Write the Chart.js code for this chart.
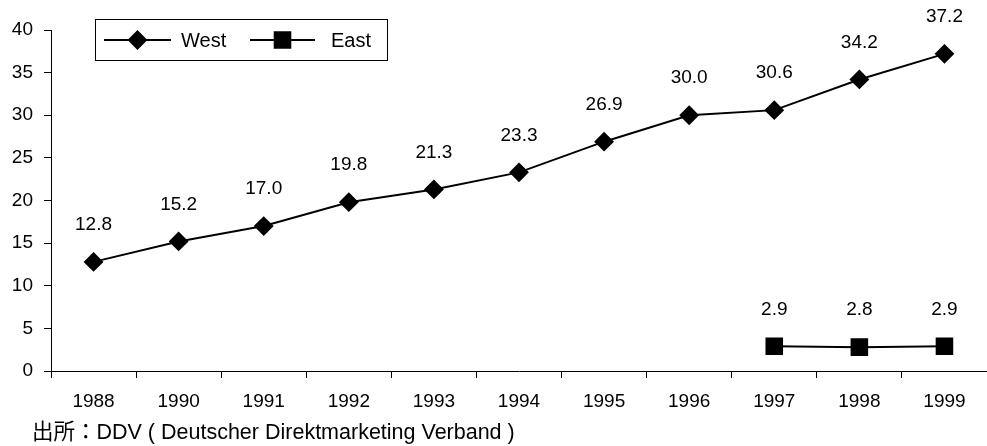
<!DOCTYPE html>
<html>
<head>
<meta charset="utf-8">
<script src="https://cdn.jsdelivr.net/npm/chart.js@4/dist/chart.umd.min.js"></script>
<style>
  html, body { margin: 0; padding: 0; background: #fff; }
  #wrap { position: relative; width: 987px; height: 446px; }
  canvas { display: block; }
</style>
</head>
<body>
<div id="wrap"><canvas id="c" width="987" height="446"></canvas></div>
<script>
// Categories and series
const years = ['1988', '1990', '1991', '1992', '1993', '1994', '1995', '1996', '1997', '1998', '1999'];
const west = [12.8, 15.2, 17.0, 19.8, 21.3, 23.3, 26.9, 30.0, 30.6, 34.2, 37.2];
const east = [null, null, null, null, null, null, null, null, 2.9, 2.8, 2.9];
const yTicks = [0, 5, 10, 15, 20, 25, 30, 35, 40];
const seriesNames = ['West', 'East'];
const sourceNote = '出所：DDV ( Deutscher Direktmarketing Verband )';

const FONT = '"Liberation Sans", Arial, sans-serif';

// Value labels above each point
const valueLabels = {
  id: 'valueLabels',
  afterDatasetsDraw(chart) {
    const ctx = chart.ctx;
    ctx.save();
    ctx.fillStyle = '#000';
    ctx.font = '19px ' + FONT;
    ctx.textAlign = 'center';
    ctx.textBaseline = 'middle';
    chart.data.datasets.forEach((ds, i) => {
      const meta = chart.getDatasetMeta(i);
      meta.data.forEach((pt, j) => {
        const v = ds.data[j];
        if (v === null || v === undefined) return;
        ctx.fillText(v.toFixed(1), pt.x, pt.y - 37);
      });
    });
    ctx.restore();
  }
};

// Boxed legend and source note
const boxLegend = {
  id: 'boxLegend',
  afterDraw(chart) {
    const ctx = chart.ctx;
    ctx.save();
    ctx.strokeStyle = '#000';
    ctx.lineWidth = 1;
    ctx.strokeRect(95.5, 19.5, 292, 41);
    const cy = 40;
    const items = [
      { x0: 104, x1: 171, tx: 181, style: 'rectRot', r: 8.5, name: seriesNames[0] },
      { x0: 250, x1: 315, tx: 331, style: 'rect', r: 11, name: seriesNames[1] }
    ];
    ctx.font = '20px ' + FONT;
    ctx.textBaseline = 'middle';
    ctx.textAlign = 'left';
    items.forEach(it => {
      ctx.strokeStyle = '#000';
      ctx.lineWidth = 2;
      ctx.beginPath();
      ctx.moveTo(it.x0, cy);
      ctx.lineTo(it.x1, cy);
      ctx.stroke();
      ctx.fillStyle = '#000';
      Chart.helpers.drawPoint(ctx, { pointStyle: it.style, radius: it.r, borderWidth: 1 }, (it.x0 + it.x1) / 2, cy);
      ctx.fillText(it.name, it.tx, cy + 1);
    });
    // source note
    ctx.font = '21.5px "Liberation Sans", "Noto Sans CJK JP", sans-serif';
    ctx.fillStyle = '#000';
    ctx.fillText(sourceNote, 32, 433);
    ctx.restore();
  }
};

new Chart(document.getElementById('c'), {
  type: 'line',
  data: {
    labels: years,
    datasets: [
      {
        label: seriesNames[0],
        data: west,
        borderColor: '#000',
        backgroundColor: '#000',
        borderWidth: 2,
        pointStyle: 'rectRot',
        pointRadius: 8.5,
        pointHoverRadius: 8.5,
        tension: 0
      },
      {
        label: seriesNames[1],
        data: east,
        borderColor: '#000',
        backgroundColor: '#000',
        borderWidth: 2,
        pointStyle: 'rect',
        pointRadius: 11,
        pointHoverRadius: 11,
        tension: 0
      }
    ]
  },
  options: {
    responsive: false,
    animation: false,
    events: [],
    layout: { autoPadding: false, padding: { top: 30, right: 0, left: 0, bottom: 0 } },
    plugins: {
      legend: { display: false },
      tooltip: { enabled: false },
      title: { display: false }
    },
    scales: {
      x: {
        offset: true,
        grid: {
          offset: true,
          drawOnChartArea: false,
          drawTicks: true,
          tickLength: 7,
          color: '#000',
          tickColor: '#000'
        },
        border: { color: '#000', width: 1 },
        ticks: {
          color: '#000',
          font: { size: 19, family: FONT },
          padding: 12,
          maxRotation: 0,
          autoSkip: false
        },
        afterFit(scale) {
          scale.height = 75;
          scale.paddingLeft = 0;
          scale.paddingRight = 0;
        }
      },
      y: {
        min: 0,
        max: 40,
        afterBuildTicks(scale) { scale.ticks = yTicks.map(v => ({ value: v })); },
        grid: {
          drawOnChartArea: false,
          drawTicks: true,
          tickLength: 7,
          color: '#000',
          tickColor: '#000'
        },
        border: { color: '#000', width: 1 },
        ticks: {
          color: '#000',
          font: { size: 19, family: FONT },
          padding: 11
        },
        afterFit(scale) {
          scale.width = 51;
          scale.paddingTop = 0;
          scale.paddingBottom = 0;
        }
      }
    }
  },
  plugins: [valueLabels, boxLegend]
});
</script>
</body>
</html>
